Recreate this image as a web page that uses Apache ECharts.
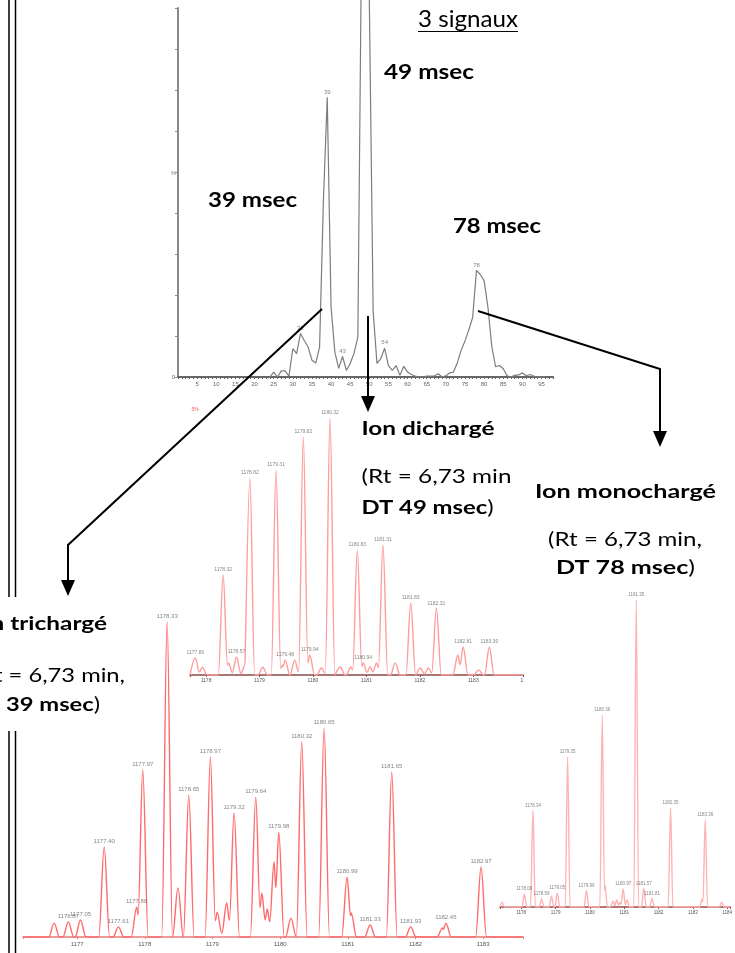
<!DOCTYPE html>
<html>
<head>
<meta charset="utf-8">
<script src="https://cdn.jsdelivr.net/npm/echarts@6/dist/echarts.min.js"></script>
<style>
html, body { margin: 0; padding: 0; background: #ffffff; }
#chart { width: 735px; height: 953px; }
</style>
</head>
<body>
<div id="chart"></div>
<script>
// ---- Drift time profile (drift time in msec, relative intensity %) ----
const driftTime = [24, 25, 26, 27, 28, 29, 30, 31, 32, 33, 34, 35, 36, 37, 38, 39, 40, 41, 42, 43,
  44, 45, 46, 47, 48, 49, 50, 51, 52, 53, 54, 55, 56, 57, 58, 59, 60, 61, 62, 63,
  64, 65, 66, 67, 68, 69, 70, 71, 72, 73, 74, 75, 76, 77, 78, 79, 80, 81, 82, 83,
  84, 85, 86, 87, 88, 89, 90, 91, 92, 93, 94, 95, 96];
const driftIntensity = [0, 1.2, 0, 1.5, 1.5, 0.2, 6.9, 5.7, 10.6, 8.9, 7.3, 4.1, 3.4, 7.3, 43, 68.2, 17, 6, 2.1, 5.0,
  1.6, 3.3, 5.8, 9.7, 110, 160, 92, 16, 3.3, 4.5, 7.0, 2.8, 1.6, 2.8, 0.4, 2.6, 1.2, 0.6, 0.2, 0,
  0, 0.2, 0.2, 0.3, 0.8, 0, 0.3, 1.0, 1.2, 3.5, 6.5, 8.8, 11.5, 14.5, 26, 25, 23.5, 17, 7.5, 2.5,
  2.8, 2.0, 0.3, 0, 0.4, 0.5, 1.0, 0.3, 0.6, 0.2, 0, 0, 0];
const driftLabelled = [32, 39, 43, 54, 78];

// ---- Isotopic clusters: [m/z, relative intensity %, labelled (1) or not (0)] ----
const peaksDicharge = [
  [1177.80, 6.6, 1], [1177.93, 3.0, 0], [1178.32, 38.9, 1], [1178.42, 4.7, 0], [1178.57, 7.0, 1],
  [1178.73, 3.9, 0], [1178.82, 76.7, 1], [1179.06, 3.0, 0], [1179.31, 79.8, 1], [1179.43, 3.9, 0],
  [1179.48, 5.8, 1], [1179.66, 5.8, 0], [1179.82, 92.6, 1], [1179.94, 7.8, 1], [1180.16, 2.7, 0],
  [1180.32, 100, 1], [1180.51, 3.1, 0], [1180.71, 3.1, 0], [1180.83, 48.6, 1], [1180.94, 4.7, 1],
  [1181.07, 3.1, 0], [1181.19, 4.7, 0], [1181.31, 50.6, 1], [1181.54, 4.7, 0], [1181.83, 28.0, 1],
  [1182.01, 2.7, 0], [1182.16, 2.7, 0], [1182.31, 26.0, 1], [1182.71, 7.8, 0], [1182.81, 10.9, 1],
  [1183.10, 2.0, 0], [1183.30, 10.9, 1]
];
const peaksTricharge = [
  [1176.66, 4.4, 0], [1176.87, 4.8, 1], [1177.05, 5.4, 1], [1177.40, 28.6, 1], [1177.61, 3.2, 1],
  [1177.88, 9.5, 1], [1177.97, 53.0, 1], [1178.33, 100, 1], [1178.49, 15.6, 0], [1178.65, 45.0, 1],
  [1178.97, 57.1, 1], [1179.07, 7.9, 0], [1179.21, 10.8, 0], [1179.32, 39.4, 1], [1179.64, 44.4, 1],
  [1179.73, 14.0, 0], [1179.81, 8.9, 0], [1179.91, 23.8, 0], [1179.98, 33.3, 1], [1180.16, 6.0, 0],
  [1180.32, 61.9, 1], [1180.65, 66.3, 1], [1180.99, 19.0, 1], [1181.05, 7.6, 0], [1181.33, 3.8, 1],
  [1181.65, 52.4, 1], [1181.93, 3.2, 1], [1182.40, 2.9, 0], [1182.45, 4.4, 1], [1182.97, 22.2, 1]
];
const peaksMonocharge = [
  [1177.44, 1.6, 0], [1178.09, 4.2, 1], [1178.34, 31.5, 1], [1178.59, 2.6, 1], [1178.88, 3.5, 0],
  [1179.05, 4.6, 1], [1179.35, 48.9, 1], [1179.90, 5.4, 1], [1180.36, 62.5, 1], [1180.44, 7.2, 0],
  [1180.67, 2.0, 0], [1180.78, 2.3, 0], [1180.88, 1.6, 0], [1180.97, 5.9, 1], [1181.08, 2.3, 0],
  [1181.35, 100, 1], [1181.57, 6.1, 1], [1181.81, 2.8, 1], [1182.35, 32.3, 1], [1183.27, 2.6, 0],
  [1183.36, 28.4, 1], [1183.84, 1.6, 0]
];

// m/z windows of the three spectra and the peak half-width (m/z) of each
const mzRangeDi = [1177.70, 1183.93];
const mzRangeTri = [1176.20, 1183.59];
const mzRangeMono = [1177.38, 1184.09];
const halfWidthDi = 0.09;
const halfWidthTri = 0.08;
const halfWidthMono = 0.07;

// Builds a profile line from the peak list: each peak rises from the baseline
// to its apex and back; neighbouring peaks whose flanks overlap meet at the crossing.
function profile(peaks, hw, range) {
  const pts = [[range[0], 0]];
  let prev = null;
  peaks.forEach(([mz, h]) => {
    const left = mz - hw, right = mz + hw;
    if (prev && left < prev.right) {
      const x = (prev.h * prev.right + h * left) / (prev.h + h);
      const y = prev.h * (prev.right - x) / hw;
      pts.pop();
      pts.push([x, y]);
    } else {
      pts.push([left, 0]);
    }
    pts.push([mz, h]);
    pts.push([right, 0]);
    prev = { right: right, h: h };
  });
  pts.push([range[1], 0]);
  return pts;
}

function peakLabels(peaks) {
  return peaks.filter(p => p[2] === 1).map(p => ({ value: [p[0], p[1]], name: p[0].toFixed(2) }));
}

const chart = echarts.init(document.getElementById('chart'), null, { renderer: 'canvas' });

// ---- Text annotations (Calibri-like lettering, slightly widened) ----
const measureCtx = document.createElement('canvas').getContext('2d');
const FONT = 'Lato';
function textWidth(parts, size) {
  let w = 0;
  parts.forEach(p => {
    measureCtx.font = (p.b ? 'bold ' : '') + size + 'px ' + FONT;
    w += measureCtx.measureText(p.t).width;
  });
  return w;
}
function label(parts, size, x, y, align, targetWidth, scale) {
  const s = targetWidth ? targetWidth / textWidth(parts, size) : scale;
  const rich = {
    b: { fontFamily: FONT, fontWeight: 'bold', fontSize: size, fill: '#000', color: '#000' },
    r: { fontFamily: FONT, fontWeight: 'normal', fontSize: size, fill: '#000', color: '#000' }
  };
  return {
    type: 'text', x: x, y: y, scaleX: s, z: 100,
    style: {
      text: parts.map(p => '{' + (p.b ? 'b' : 'r') + '|' + p.t + '}').join(''),
      rich: rich, fill: '#000',
      align: align, verticalAlign: 'middle',
      textAlign: align, textVerticalAlign: 'middle'
    }
  };
}
const sDi = 133 / textWidth([{ t: 'Ion dichargé', b: 1 }], 19);

const texts = [
  label([{ t: '3 signaux' }], 23, 418, 20, 'left', 100),
  label([{ t: '49 msec', b: 1 }], 21, 384, 72.5, 'left', 90),
  label([{ t: '39 msec', b: 1 }], 21, 208, 200.5, 'left', 89),
  label([{ t: '78 msec', b: 1 }], 21, 453, 226, 'left', 88),
  label([{ t: 'Ion dichargé', b: 1 }], 19, 361.5, 429, 'left', 133),
  label([{ t: '(Rt = 6,73 min' }], 18.5, 361.5, 477, 'left', 150),
  label([{ t: 'DT 49 msec', b: 1 }, { t: ')' }], 18.5, 361.5, 508.5, 'left', 132),
  label([{ t: 'Ion monochargé', b: 1 }], 19, 535, 491.5, 'left', 181),
  label([{ t: '(Rt = 6,73 min,' }], 18.5, 548, 540, 'left', 154),
  label([{ t: 'DT 78 msec', b: 1 }, { t: ')' }], 18.5, 556, 568, 'left', 139),
  label([{ t: 'Ion trichargé', b: 1 }], 19, 107, 624, 'right', null, sDi),
  label([{ t: '(Rt = 6,73 min,' }], 18.5, 125, 676, 'right', null, sDi),
  label([{ t: 'DT 39 msec', b: 1 }, { t: ')' }], 18.5, 100, 705, 'right', null, sDi)
];

const blk = { stroke: '#000', lineWidth: 2, fill: null };
const graphics = texts.concat([
  // underline of the heading
  { type: 'line', z: 100, shape: { x1: 418, y1: 31.5, x2: 518, y2: 31.5 }, style: { stroke: '#000', lineWidth: 1 } },
  // connectors from the drift peaks to their spectra
  { type: 'polyline', z: 90, shape: { points: [[322, 309], [68, 545], [68, 582]] }, style: blk },
  { type: 'polygon', z: 90, shape: { points: [[61, 580], [75, 580], [68, 596]] }, style: { fill: '#000' } },
  { type: 'line', z: 90, shape: { x1: 368, y1: 316, x2: 368, y2: 398 }, style: blk },
  { type: 'polygon', z: 90, shape: { points: [[361, 396], [375, 396], [368, 412]] }, style: { fill: '#000' } },
  { type: 'polyline', z: 90, shape: { points: [[478, 311], [660, 369], [660, 433]] }, style: blk },
  { type: 'polygon', z: 90, shape: { points: [[653, 431], [667, 431], [660, 447]] }, style: { fill: '#000' } },
  // double rule along the left margin
  { type: 'line', z: 80, shape: { x1: 9, y1: 0, x2: 9, y2: 597 }, style: { stroke: '#000', lineWidth: 1.5 } },
  { type: 'line', z: 80, shape: { x1: 15.5, y1: 0, x2: 15.5, y2: 597 }, style: { stroke: '#000', lineWidth: 1.5 } },
  { type: 'line', z: 80, shape: { x1: 9, y1: 731, x2: 9, y2: 953 }, style: { stroke: '#000', lineWidth: 1.5 } },
  { type: 'line', z: 80, shape: { x1: 15.5, y1: 731, x2: 15.5, y2: 953 }, style: { stroke: '#000', lineWidth: 1.5 } },
  // small instrument annotations
  { type: 'text', z: 50, x: 176, y: 173, style: { text: '%', fontSize: 6, fill: '#888', align: 'right', verticalAlign: 'middle', textAlign: 'right', textVerticalAlign: 'middle' } },
  { type: 'text', z: 50, x: 195, y: 410, style: { text: '5%', fontSize: 5, fill: '#e55', align: 'center', verticalAlign: 'middle', textAlign: 'center', textVerticalAlign: 'middle' } },
  { type: 'text', z: 50, x: 522, y: 681, style: { text: '1', fontSize: 5, fill: '#555', align: 'center', verticalAlign: 'middle', textAlign: 'center', textVerticalAlign: 'middle' } }
]);

const specAxis = (idx, range, color, fontSize, margin) => ({
  type: 'value', gridIndex: idx, min: range[0], max: range[1], splitNumber: 7,
  axisLine: { show: true, lineStyle: { color: color, width: 1.5 } },
  axisTick: { show: true, length: 2, lineStyle: { color: color } },
  axisLabel: { show: true, fontSize: fontSize, color: '#555', margin: margin, fontFamily: 'Arial',
    formatter: v => Number.isInteger(v) ? String(v) : '' },
  splitLine: { show: false }
});
const specY = (idx) => ({ type: 'value', gridIndex: idx, min: 0, max: 100, show: false, splitLine: { show: false } });

const labelSeries = (idx, data, size) => ({
  type: 'scatter', xAxisIndex: idx, yAxisIndex: idx, data: data, symbolSize: 1,
  itemStyle: { color: 'rgba(0,0,0,0)' }, silent: true, z: 5,
  label: { show: true, position: 'top', distance: 2, fontSize: size, color: '#666', fontFamily: 'Arial', formatter: p => p.name }
});

const spectrumLine = (idx, data, color) => ({
  type: 'line', xAxisIndex: idx, yAxisIndex: idx, data: data, showSymbol: false,
  smooth: 0.35, smoothMonotone: 'x',
  lineStyle: { color: color, width: 1.4 }, z: 3
});

const driftData = driftTime.map((t, i) => [t, driftIntensity[i]]);
const driftLabelData = driftLabelled.map(t => ({ value: [t, driftIntensity[driftTime.indexOf(t)]], name: String(t) }));

chart.setOption({
  animation: false,
  backgroundColor: '#ffffff',
  grid: [
    { left: 178, top: 8, width: 375, height: 369 },
    { left: 190, top: 418, width: 333, height: 257 },
    { left: 23, top: 622, width: 500, height: 315 },
    { left: 500, top: 600, width: 235, height: 307 }
  ],
  xAxis: [
    {
      type: 'value', gridIndex: 0, min: 0, max: 98, interval: 1,
      axisLine: { lineStyle: { color: '#666', width: 2 } },
      axisTick: { show: true, length: 2, interval: 0, lineStyle: { color: '#666' } },
      axisLabel: { interval: 0, fontSize: 6, color: '#666', margin: 4, fontFamily: 'Arial',
        formatter: v => (v > 0 && v % 5 === 0) ? String(v) : '' },
      splitLine: { show: false }
    },
    specAxis(1, mzRangeDi, '#8a4a4a', 5, 3),
    specAxis(2, mzRangeTri, '#e87a7a', 6, 4),
    specAxis(3, mzRangeMono, '#9a4a4a', 4.5, 3)
  ],
  yAxis: [
    {
      type: 'value', gridIndex: 0, min: 0, max: 90, interval: 10,
      axisLine: { show: true, lineStyle: { color: '#888', width: 2 } },
      axisTick: { show: true, length: 3, lineStyle: { color: '#888' } },
      axisLabel: { fontSize: 6, color: '#666', margin: 3, fontFamily: 'Arial', formatter: v => v === 0 ? '0' : '' },
      splitLine: { show: false }
    },
    specY(1), specY(2), specY(3)
  ],
  series: [
    {
      type: 'line', xAxisIndex: 0, yAxisIndex: 0, data: driftData, showSymbol: false, clip: false,
      lineStyle: { color: '#7d7d7d', width: 1.2 }, z: 3
    },
    labelSeries(0, driftLabelData, 6),
    spectrumLine(1, profile(peaksDicharge, halfWidthDi, mzRangeDi), '#ff9c9c'),
    labelSeries(1, peakLabels(peaksDicharge), 5),
    spectrumLine(2, profile(peaksTricharge, halfWidthTri, mzRangeTri), '#ff6a6a'),
    labelSeries(2, peakLabels(peaksTricharge), 6),
    spectrumLine(3, profile(peaksMonocharge, halfWidthMono, mzRangeMono), '#ffb4b4'),
    labelSeries(3, peakLabels(peaksMonocharge), 4.5)
  ],
  graphic: { elements: graphics }
});
</script>
</body>
</html>
